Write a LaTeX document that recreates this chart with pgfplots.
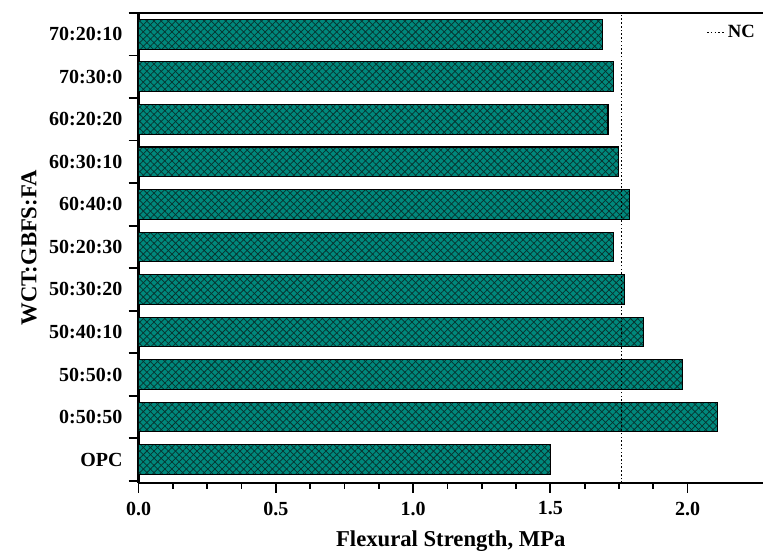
\documentclass[border=0pt]{standalone}
\usepackage{fontspec}
\setmainfont{Liberation Serif}
\usepackage{pgfplots}
\pgfplotsset{compat=1.18}
\usetikzlibrary{patterns.meta}
\definecolor{barteal}{RGB}{0,136,124}
\definecolor{hatch}{RGB}{8,50,46}
\begin{document}
\begin{tikzpicture}
\begin{axis}[
  name=ax,
  at={(0,0)}, anchor=south west,
  scale only axis, width=468.4pt, height=352.5pt,
  xmin=0, xmax=2.275, ymin=-0.55, ymax=10.5,
  axis x line*=box, axis y line*=left,
  xtick pos=left, ytick pos=left,
  axis line style={line width=1.6pt},
  tick align=outside,
  tick style={line width=1.3pt, black},
  major tick length=7.5pt, minor tick length=4.5pt,
  xtick={0,0.5,1.0,1.5,2.0}, minor x tick num=3,
  ytick={-0.5,0.5,...,10.5}, yticklabels={},
  extra y ticks={0,1,2,3,4,5,6,7,8,9,10},
  extra y tick labels={OPC,0:50:50,50:50:0,50:40:10,50:30:20,50:20:30,60:40:0,60:30:10,60:20:20,70:30:0,70:20:10},
  extra y tick style={tick style={draw=none}, yticklabel style={xshift=-1pt}},
  /pgf/number format/assume math mode=true,
  xticklabel style={font=\fontsize{15}{15}\selectfont\bfseries, yshift=-3pt, /pgf/number format/fixed, /pgf/number format/fixed zerofill, /pgf/number format/precision=1},
  yticklabel style={font=\fontsize{15}{15}\selectfont\bfseries},
  xlabel={Flexural Strength, MPa}, ylabel={WCT:GBFS:FA},
  label style={font=\fontsize{17}{17}\selectfont\bfseries},
  xlabel style={yshift=-5pt},
  ylabel style={yshift=-5pt},
  legend style={at={(1,1)}, anchor=north east, draw=none, fill=none, font=\fontsize{14}{14}\selectfont\bfseries, xshift=-1pt, yshift=-5pt},
  legend image code/.code={\draw[#1] (0pt,0pt) -- (13pt,0pt);},
]
\addplot[xbar, bar width=0.7, draw=black, line width=0.8pt, fill=barteal,
  postaction={pattern={Lines[angle=45,distance=3.8pt,line width=0.55pt]}, pattern color=hatch},
  postaction={pattern={Lines[angle=-45,distance=3.8pt,line width=0.55pt]}, pattern color=hatch},
  forget plot] coordinates {
  (1.50,0) (2.11,1) (1.98,2) (1.84,3) (1.77,4) (1.73,5)
  (1.79,6) (1.75,7) (1.71,8) (1.73,9) (1.69,10)
};
\addplot[dash pattern=on 1.2pt off 1.6pt, line width=1.1pt, black] coordinates {(1.76,-0.55) (1.76,10.5)};
\addlegendentry{NC}
\end{axis}
\pgfresetboundingbox
\path[use as bounding box] (ax.south west) ++(-103.9pt,-54pt) rectangle ++(572.25pt,416.25pt);
\end{tikzpicture}
\end{document}
